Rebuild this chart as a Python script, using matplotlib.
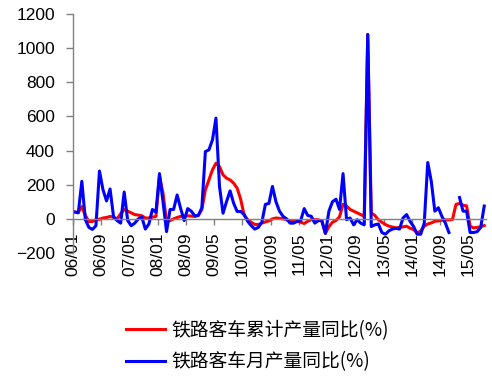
import numpy as np
import matplotlib
matplotlib.use('Agg')
import matplotlib.pyplot as plt

nan = np.nan

# 06/01 .. 15/09, monthly
tick_labels = ['06/01', '06/09', '07/05', '08/01', '08/09', '09/05', '10/01', '10/09',
               '11/05', '12/01', '12/09', '13/05', '14/01', '14/09', '15/05']

# 铁路客车累计产量同比(%)
cum_yoy = [40, 38, 72, 20, -16, -16, -5, -2, 5, 8, 14, 10,
           0, 30, 55, 45, 35, 25, 22, 18, 5, 5, 10, 14,
           250, 150, -16, -10, 0, 8, 14, 16, 18, 16, 14, 20,
           55, 170, 228, 287, 326, 306, 258, 238, 228, 209, 180, 115,
           20, -5, -20, -33, -33, -25, -18, -12, 0, 5, 3, 0,
           -5, -14, -14, -14, -20, -27, -14, -5, -5, -5, -14, -85,
           -45, -20, -10, 12, 85, 75, 55, 45, 35, 25, 15, 1080,
           35, 20, -5, -20, -33, -43, -48, -53, -50, -47, -43, -55,
           -63, -82, -72, -43, -30, -24, -14, -12, -8, -6, -6, -4,
           85, 90, 80, 76, -43, -53, -50, -47, -39]

# 铁路客车月产量同比(%)
month_yoy = [40, 35, 220, -5, -50, -62, -40, 280, 170, 105, 175, 10,
             -10, -25, 157, -10, -40, -25, 0, 10, -60, -30, 55, 40,
             265, 100, -75, 55, 55, 140, 60, -10, 60, 45, 18, 20,
             65, 394, 404, 462, 590, 190, 33, 101, 164, 92, 43, 43,
             25, -15, -40, -60, -50, -20, 85, 90, 190, 100, 45, 15,
             0, -25, -25, -15, -10, 60, 20, 15, -25, -10, -10, -85,
             45, 100, 115, 55, 265, -5, 5, -35, -5, -25, -35, 1080,
             -45, -35, -30, -80, -90, -70, -60, -55, -60, 5, 25, -15,
             -45, -90, -90, -25, 330, 220, 45, 65, 15, -25, -80, nan,
             nan, 125, 45, 45, -80, -80, -75, -50, 75]

x = np.arange(len(cum_yoy))

fig = plt.figure(figsize=(4.92, 3.76), dpi=100)
ax = fig.add_axes([73 / 492, 123 / 376, 413 / 492, 239 / 376])

# spine position first: it resets the ticks
ax.spines['top'].set_visible(False)
ax.spines['right'].set_visible(False)
ax.spines['bottom'].set_position(('data', 0))
for s in ('left', 'bottom'):
    ax.spines[s].set_color('#808080')
    ax.spines[s].set_linewidth(1)

l1, = ax.plot(x, cum_yoy, color='#ff0000', lw=2.2, label='铁路客车累计产量同比(%)')
l2, = ax.plot(x, month_yoy, color='#0000ff', lw=2.2, label='铁路客车月产量同比(%)')

ax.set_xlim(-0.5, len(x) - 0.5)
ax.set_ylim(-200, 1200)
ax.set_yticks(range(-200, 1201, 200))
ax.set_xticks(np.arange(len(tick_labels)) * 8 - 0.5)
ax.set_xticklabels(tick_labels)
ax.tick_params(axis='y', direction='out', length=5, width=1, color='#808080', pad=8,
               labelsize=12.5)
ax.tick_params(axis='x', direction='out', length=4, width=1, color='#808080', pad=6,
               labelsize=12.5, labelrotation=90)
for t in ax.get_xticklabels() + ax.get_yticklabels():
    t.set_family('Liberation Sans')

fig.legend(handles=[l1, l2], loc='upper left', bbox_to_anchor=(126 / 492, 1 - 320 / 376),
           frameon=False, prop={'family': ['Noto Sans CJK SC', 'DejaVu Sans'], 'size': 13.5},
           handlelength=2.1, handletextpad=0.3, labelspacing=0.55, borderpad=0, borderaxespad=0)

fig.savefig('out.png', dpi=100)
